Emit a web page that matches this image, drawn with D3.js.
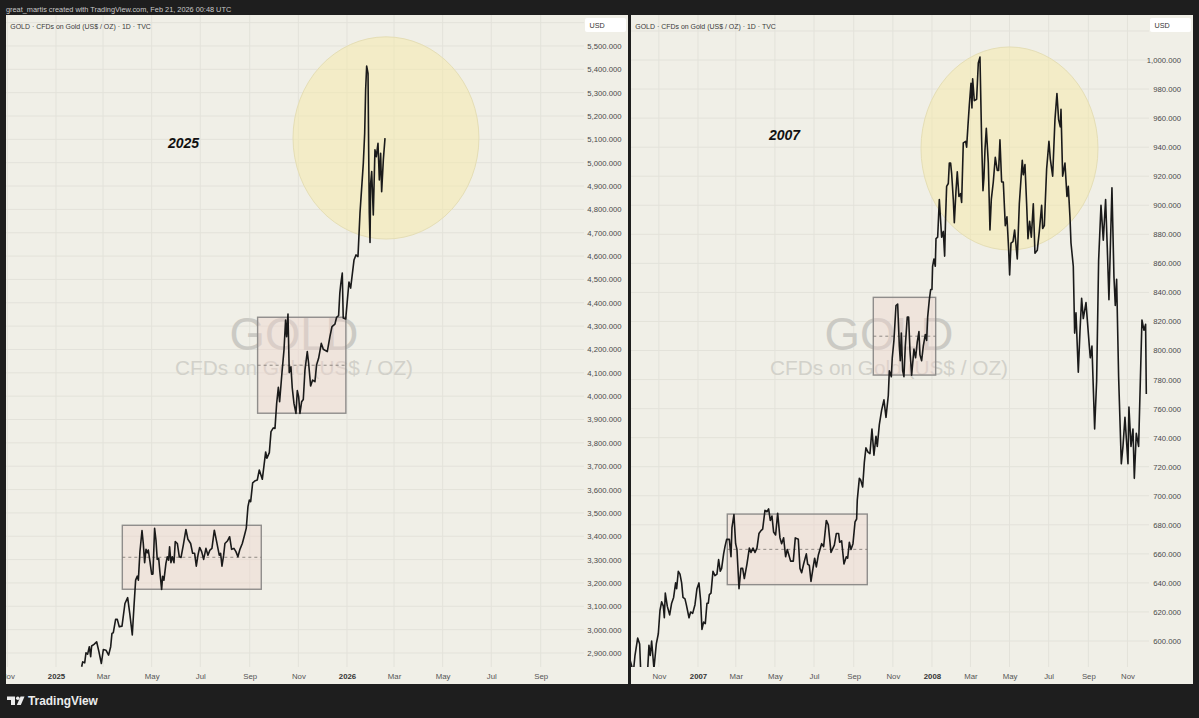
<!DOCTYPE html>
<html>
<head>
<meta charset="utf-8">
<script src="https://d3js.org/d3.v7.min.js"></script>
<style>
  html, body { margin: 0; background: #1e1e1e; overflow: hidden; }
  text { font-family: "Liberation Sans", Arial, sans-serif; }
</style>
</head>
<body>
<div id="chart"></div>
<script>
// days counted from Jan 1 of the first labelled year, prices
const leftDays = [32.2,33.5,36,37.6,39.7,41.8,43.5,44.7,47.7,51,53.9,56.9,59.4,62.7,66,68.6,70.2,71.9,74.8,76.9,79.4,82.8,86.5,89.9,92.8,95.7,97.8,99.9,102,103.3,105.3,107.9,109.5,111.2,112.9,114.5,115.8,117.9,120,121.6,123.7,125.4,127,128.8,130.4,132.5,133.8,135.4,137.9,139.6,141.3,142.5,144.2,145.9,148,149.6,152.2,154.7,156.8,159.7,163,165.5,168.9,171.4,173.9,176,178.1,180.2,182.7,185.2,188.1,190.6,193.1,195.6,198.6,201.5,204.8,206.5,208.2,210.3,211.9,215.3,217.8,220.3,223.2,225.7,228.2,230.7,233.7,236.2,238.7,240.8,242.5,244.2,246.7,250,252.5,255,258.8,263,264.6,267.6,269.7,272.6,274.7,276.8,278.9,280.5,283.4,286,288,289.3,291,292.6,294.7,296.4,298.5,301,302.7,304.4,306,308.1,310.2,312.3,315.2,316.9,319.4,321.9,324.8,326.9,329.4,332.8,335.3,340.3,343.6,346.2,349.9,352,354.5,356,357.2,359.1,360.3,363.4,367.5,369.6,373.8,376.3,378.8,381.3,385.5,387.2,388.4,389.7,391.4,392.2,393,393.9,394.7,396,398,400.1,401.8,403.9,405.6,407.2,408.5,410.6,412.7];
const leftPrices = [2841,2862,2858,2901,2895,2927,2884,2930,2937,2948,2905,2855,2915,2912,2891,2927,2984,2987,3044,3044,3012,3015,3112,3137,3062,2977,3098,3212,3229,3212,3334,3424,3369,3287,3344,3329,3341,3291,3238,3238,3434,3384,3301,3305,3244,3172,3229,3212,3284,3312,3298,3355,3287,3312,3287,3377,3369,3312,3309,3362,3429,3387,3369,3327,3327,3272,3319,3352,3334,3301,3348,3319,3341,3348,3426,3377,3319,3327,3272,3319,3369,3381,3398,3344,3348,3334,3312,3344,3369,3401,3435,3527,3555,3548,3629,3638,3641,3684,3644,3761,3734,3758,3848,3864,3862,3969,4038,3976,4098,4198,4326,4255,4352,4101,4126,4034,3969,3926,4024,3998,3926,3976,3986,4112,4191,4141,4044,4069,4062,4134,4162,4226,4201,4191,4255,4298,4309,4338,4345,4440,4480,4527,4335,4331,4489,4463,4583,4605,4598,4783,4998,5126,5312,5414,5383,5055,4783,4658,4912,4962,4776,5055,5026,5083,4926,5040,4876,5012,5105];

const rightDays = [-106.1,-103.5,-100.9,-98.3,-94.1,-91,-89,-82.7,-78.5,-76.5,-74.4,-72.3,-68.7,-65,-61.9,-59.3,-56.7,-54.1,-52.5,-51,-47.9,-44.2,-41.1,-38,-34.9,-33.3,-30.7,-28.1,-25.5,-23.4,-20.3,-18.2,-14,-11.5,-8.3,-4.7,-1.6,1.5,4.1,6.2,8.8,11.4,14,16.1,17.7,20.3,23.4,26.5,29.6,32.2,34.8,36.9,40,42.1,44.7,48.9,51.5,53,56.1,58.7,60.8,64,67,69.7,72.3,76.4,80.1,82.7,85.8,88.9,92,95.1,98.3,100.9,104.5,107.6,110.2,112.8,115.4,118,121.1,124.3,127.9,130.5,133.6,136.7,139.3,141.9,144.5,148.7,151.8,156.5,159.1,161.7,164.8,169,171.1,173.7,176.3,179.4,182,184.6,187.7,192.9,196,200.2,203.3,207.5,212.7,215.8,219.4,221,224.1,227.7,231.4,233.5,236.1,238.7,241.8,245,247.5,248.5,251.7,253.7,256.9,259.5,262,265.2,268.3,271.4,274.5,277.7,279.7,282.9,286.5,290.1,293.3,296.9,298.5,301.6,303.1,305.7,308.9,311.5,314.1,315.6,317.2,319.3,321.3,323.4,326.5,328.6,330.7,333.3,336.9,339.5,342.1,344.7,346.3,348.9,351.5,354.6,356.7,358.3,360.9,363,365,366,368.1,370.2,371.3,373.9,376.5,380.1,382.7,384.8,386.3,387.9,390.5,392.1,394.1,395.7,398.3,399.9,402.5,404.5,407.1,409.7,411.3,413.9,417.5,419.1,421.2,423.3,425.9,427.4,428.5,431.1,434.7,437.3,439.9,442.5,444.6,446.1,447.7,449.8,452.9,455.5,457.6,460.7,463.8,466.9,469,471.1,473.7,476.3,479.4,482,484.6,486.2,488.3,491.4,494,498.1,501.3,505.9,507.5,510.1,512.7,514.8,517.4,520,523.1,525.7,529.3,532.5,536.1,537.7,540.3,543.9,547.5,549.6,553.3,556.9,560,562.6,565.2,566.3,568.9,572.5,575.6,577.7,580.3,581.9,585.5,587.6,589.7,593.3,595.9,598.5,601.1,605.3,610.5,612,614.6,618.8,621.9,625,628.7,632.3,635.9,638.5,641.1,645.8,648.9,651,653.1,656.2,660.4,663,666.1,670.8,672.3,675.5,678.6,680.7,683.8,687.4,692.6,695.7,698.3,699.4];
const rightPrices = [587,583,578,590,602,598,575,572,580,597,590,600,581,598,605,621,627,624,616,633,624,618,626,630,640,636,648,646,640,630,629,625,616,620,619,625,636,640,628,608,613,612,626,626,632,633,648,645,646,656,648,650,660,665,670,670,658,678,687,667,663,636,650,650,643,653,664,661,664,661,664,674,676,677,690,689,691,683,686,675,673,688,671,667,671,658,663,659,655,655,671,670,650,647,653,660,653,652,641,650,657,651,659,667,665,683,680,661,666,674,674,668,669,653,658,657,668,663,667,682,684,697,712,711,706,723,733,730,729,746,728,741,734,749,759,766,754,769,786,782,795,807,831,832,803,793,812,786,782,803,823,823,800,783,801,795,806,813,797,793,803,811,807,823,835,842,842,858,863,858,877,878,904,878,882,865,892,913,915,929,929,922,904,888,910,923,906,908,902,943,944,940,955,969,984,967,987,972,973,998,1002,945,910,919,938,953,929,883,904,916,933,924,924,945,916,916,886,892,870,852,874,875,883,863,901,931,921,928,901,877,889,878,901,867,869,882,900,884,886,925,944,932,920,959,977,959,954,966,920,929,906,913,892,874,858,812,826,785,813,836,822,833,803,795,803,746,779,862,900,876,904,871,835,912,851,831,849,782,722,734,754,722,761,734,746,712,743,734,821,814,818,770];

// ticks
const leftMonths = [[2024,10,"Nov"],[2025,0,"2025"],[2025,2,"Mar"],[2025,4,"May"],[2025,6,"Jul"],[2025,8,"Sep"],[2025,10,"Nov"],[2026,0,"2026"],[2026,2,"Mar"],[2026,4,"May"],[2026,6,"Jul"],[2026,8,"Sep"]];
const rightMonths = [[2006,10,"Nov"],[2007,0,"2007"],[2007,2,"Mar"],[2007,4,"May"],[2007,6,"Jul"],[2007,8,"Sep"],[2007,10,"Nov"],[2008,0,"2008"],[2008,2,"Mar"],[2008,4,"May"],[2008,6,"Jul"],[2008,8,"Sep"],[2008,10,"Nov"]];
const leftPriceTicks = d3.range(2900, 5501, 100);
const rightPriceTicks = d3.range(600, 1001, 20);

// drawings: [dayFrom, dayTo, priceLow, priceHigh]
const leftBoxes = [[83.2, 257.5, 3173, 3447], [252.9, 363.6, 3927, 4338]];
const rightBoxes = [[45.7, 264.1, 638.8, 687.4], [273.5, 370.8, 783.1, 836.6]];
const leftCircle = [297.3, 530.5, 4673, 5539];
const rightCircle = [347.9, 624, 869.2, 1009];

const W = 1199, H = 718;
const bgDark = "#1e1e1e", bgPanel = "#f0efe7", gridColor = "#e3e2da";
const plotTop = 15, plotBottom = 667, panelBottom = 684;

const svg = d3.select("#chart").append("svg")
      .attr("width", W).attr("height", H)
      .style("display", "block");

svg.append("rect").attr("width", W).attr("height", H).attr("fill", bgDark);

const defs = svg.append("defs");

function drawPanel(p) {
  const base = Date.UTC(p.year, 0, 1);
  const toDate = d => new Date(base + d*864e5);

  const x = d3.scaleUtc().domain(p.dayDomain.map(toDate)).range([p.x0, p.x1]);
  const y = d3.scaleLinear().domain(p.priceDomain).range([plotBottom, plotTop]);

  const g = svg.append("g");

  g.append("rect")
    .attr("x", p.x0).attr("y", plotTop)
    .attr("width", p.panelEnd - p.x0).attr("height", panelBottom - plotTop)
    .attr("fill", bgPanel);

  defs.append("clipPath").attr("id", "plot" + p.id)
    .append("rect")
    .attr("x", p.x0).attr("y", plotTop)
    .attr("width", p.x1 - p.x0).attr("height", plotBottom - plotTop);
  defs.append("clipPath").attr("id", "panel" + p.id)
    .append("rect")
    .attr("x", p.x0).attr("y", plotTop)
    .attr("width", p.panelEnd - p.x0).attr("height", panelBottom - plotTop);

  const tickDates = p.months.map(m => new Date(Date.UTC(m[0], m[1], 1)));
  const plot = g.append("g").attr("clip-path", `url(#plot${p.id})`);

  // grid
  plot.selectAll(".vgrid").data(tickDates).enter().append("line")
    .attr("x1", x).attr("x2", x)
    .attr("y1", plotTop).attr("y2", plotBottom)
    .attr("stroke", gridColor);
  plot.selectAll(".hgrid").data(p.gridPrices).enter().append("line")
    .attr("x1", p.x0).attr("x2", p.x1)
    .attr("y1", y).attr("y2", y)
    .attr("stroke", gridColor);

  // watermark
  const midX = (p.x0 + p.x1) / 2;
  plot.append("text").text("GOLD")
    .attr("x", midX - 1).attr("y", 350)
    .attr("text-anchor", "middle")
    .attr("font-size", 45.5)
    .attr("fill", "#cbcac4");
  plot.append("text").text("CFDs on Gold (US$ / OZ)")
    .attr("x", midX - 1).attr("y", 375)
    .attr("text-anchor", "middle")
    .attr("font-size", 20.8)
    .attr("fill", "#d2d1ca");

  // yellow circle
  const c = p.circle;
  plot.append("ellipse")
    .attr("cx", (x(toDate(c[0])) + x(toDate(c[1]))) / 2)
    .attr("cy", (y(c[2]) + y(c[3])) / 2)
    .attr("rx", (x(toDate(c[1])) - x(toDate(c[0]))) / 2)
    .attr("ry", (y(c[2]) - y(c[3])) / 2)
    .attr("fill", "#f5e9a8").attr("fill-opacity", 0.5)
    .attr("stroke", "#e5deb5");

  // boxes with dashed middle
  const boxes = plot.selectAll(".box").data(p.boxes).enter().append("g");
  boxes.append("rect")
    .attr("x", b => x(toDate(b[0])))
    .attr("y", b => y(b[3]))
    .attr("width", b => x(toDate(b[1])) - x(toDate(b[0])))
    .attr("height", b => y(b[2]) - y(b[3]))
    .attr("fill", "#eed5cc").attr("fill-opacity", 0.42)
    .attr("stroke", "#8f8d8b").attr("stroke-width", 1.4);
  boxes.append("line")
    .attr("x1", b => x(toDate(b[0])))
    .attr("x2", b => x(toDate(b[1])))
    .attr("y1", b => y((b[2] + b[3]) / 2))
    .attr("y2", b => y((b[2] + b[3]) / 2))
    .attr("stroke", "#77736f").attr("stroke-width", 0.8)
    .attr("stroke-dasharray", "3,3");

  // price line
  const line = d3.line()
        .x((d, i) => x(toDate(p.days[i])))
        .y(d => y(d));
  plot.append("path")
    .attr("d", line(p.prices))
    .attr("fill", "none")
    .attr("stroke", "#1a1a1a")
    .attr("stroke-width", 1.6)
    .attr("stroke-linejoin", "round");

  // time axis
  const xAxis = d3.axisBottom(x)
        .tickValues(tickDates)
        .tickSize(0)
        .tickFormat((d, i) => p.months[i][2]);
  const xg = g.append("g")
        .attr("clip-path", `url(#panel${p.id})`)
        .append("g")
        .attr("transform", `translate(0,${plotBottom})`)
        .call(xAxis);
  xg.select(".domain").remove();
  xg.selectAll("text")
    .attr("y", 11.8)
    .attr("dy", 0)
    .attr("font-family", "Liberation Sans")
    .attr("font-size", 7.8)
    .attr("font-weight", (d, i) => p.months[i][2].length == 4 ? "bold" : "normal")
    .attr("fill", (d, i) => p.months[i][2].length == 4 ? "#333" : "#555");

  // price axis
  const yAxis = d3.axisRight(y)
        .tickValues(p.priceTicks)
        .tickSize(0)
        .tickFormat(d3.format(",.3f"));
  const yg = g.append("g")
        .attr("transform", `translate(${p.labelX},0)`)
        .call(yAxis);
  yg.select(".domain").remove();
  yg.selectAll("text")
    .attr("x", 0)
    .attr("text-anchor", "end")
    .attr("font-family", "Liberation Sans")
    .attr("font-size", 7.7)
    .attr("fill", "#4a4a4a");

  // USD tag
  g.append("rect")
    .attr("x", p.x1 + 1).attr("y", 18)
    .attr("width", p.panelEnd - p.x1 - 3).attr("height", 14)
    .attr("rx", 2)
    .attr("fill", "#fff");
  g.append("text").text("USD")
    .attr("x", p.x1 + 5.5).attr("y", 28)
    .attr("font-size", 7.2)
    .attr("fill", "#333");

  // legend
  g.append("text").text("GOLD · CFDs on Gold (US$ / OZ) · 1D · TVC")
    .attr("x", p.x0 + 4.3).attr("y", 28.5)
    .attr("font-size", 6.96)
    .attr("fill", "#3a3a3a");

  // year note
  g.append("text").text(p.note[0])
    .attr("x", p.note[1]).attr("y", p.note[2])
    .attr("font-size", 14)
    .attr("font-weight", "bold")
    .attr("font-style", "italic")
    .attr("fill", "#111");
}

drawPanel({id: "L", year: 2025, x0: 6, x1: 584, panelEnd: 628, labelX: 621.5,
           dayDomain: [-62.7, 662.3], priceDomain: [2840, 5632.6],
           months: leftMonths, priceTicks: leftPriceTicks,
           gridPrices: leftPriceTicks.concat([5600]),
           days: leftDays, prices: leftPrices,
           boxes: leftBoxes, circle: leftCircle, note: ["2025", 168, 147.5]});

drawPanel({id: "R", year: 2007, x0: 631, x1: 1149, panelEnd: 1193, labelX: 1181,
           dayDomain: [-104.5, 703.6], priceDomain: [582.1, 1031],
           months: rightMonths, priceTicks: rightPriceTicks,
           gridPrices: rightPriceTicks.concat([1020]),
           days: rightDays, prices: rightPrices,
           boxes: rightBoxes, circle: rightCircle, note: ["2007", 769, 140]});

// header and footer
svg.append("text").text("great_martis created with TradingView.com, Feb 21, 2026 00:48 UTC")
  .attr("x", 6).attr("y", 12)
  .attr("font-size", 7.35)
  .attr("fill", "#c9c9c9");

// TradingView mark
const mark = svg.append("g").attr("fill", "#ececec");
mark.append("path").attr("d", "M7 696.5H15V705H11V700H7Z");
mark.append("circle").attr("cx", 17.8).attr("cy", 698.3).attr("r", 1.8);
mark.append("path").attr("d", "M20.5 696.5H24.5L20.8 705H16.8Z");
svg.append("text").text("TradingView")
  .attr("x", 28).attr("y", 705)
  .attr("font-family", "Inter")
  .attr("font-size", 11.9)
  .attr("font-weight", 600)
  .attr("fill", "#ececec");
</script>
</body>
</html>
